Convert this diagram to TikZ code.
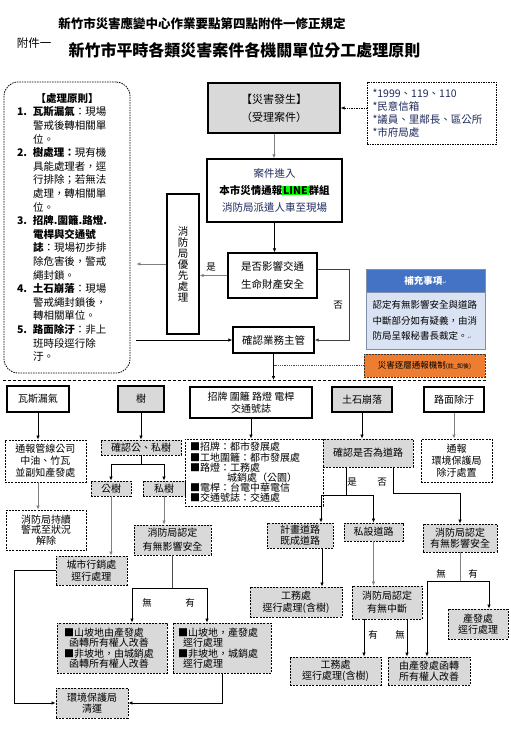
\documentclass[tikz,border=0pt]{standalone}
\usepackage{fontspec}
\setmainfont{Noto Sans CJK TC}
\newfontfamily\markfont{DejaVu Sans}
\usepackage{tikz}
\usetikzlibrary{positioning,arrows.meta}
\usepackage{xcolor}

\definecolor{boxgray}{HTML}{D9D9D9}
\definecolor{linegray}{HTML}{808080}
\definecolor{inkblue}{HTML}{1F2A5C}
\definecolor{noteblue}{HTML}{4472C4}
\definecolor{notepale}{HTML}{DAE3F3}
\definecolor{noteedge}{HTML}{8090A8}
\definecolor{alertorange}{HTML}{ED7D31}
\definecolor{linegreen}{HTML}{00FF00}

\newcommand{\setfs}[2]{\fontsize{#1}{#2}\selectfont}

\begin{document}
\begin{tikzpicture}[
    x=1pt, y=-1pt,
    solidbox/.style={
        draw,
        line width=1.3pt,
        inner sep=0pt,
        align=center,
        font=\setfs{10}{12}
    },
    graysolid/.style={solidbox, fill=boxgray},
    dashbox/.style={
        draw,
        line width=0.9pt,
        dash pattern=on 2pt off 1.2pt,
        inner sep=0pt,
        align=center,
        font=\setfs{10}{11.5}
    },
    graydash/.style={dashbox, fill=boxgray},
    line/.style={-{Latex[length=4pt,width=3.5pt]}, line width=0.7pt},
    gline/.style={line, draw=linegray},
    link/.style={line width=0.7pt},
    branchlabel/.style={font=\setfs{9.5}{11}, inner sep=0pt}
]

\useasboundingbox (0,0) rectangle (511,740);

\node[font=\setfs{12.5}{14}\bfseries] (subtitle) at (202,24) {新竹市災害應變中心作業要點第四點附件一修正規定};
\node[font=\setfs{11.5}{13}] (annex) at (34,43) {附件一};
\node[font=\setfs{16}{18}\bfseries] (title) at (244.5,50) {新竹市平時各類災害案件各機關單位分工處理原則};

\node[draw, dash pattern=on 1.5pt off 1pt, line width=0.8pt, rounded corners=14pt,
      minimum width=126pt, minimum height=291pt, text width=100pt, align=left,
      inner sep=0pt, font=\setfs{10.5}{13.6}] (principles) at (67,227.5) {%
\makebox[100pt]{\bfseries 【處理原則】}\\
\makebox[16pt][l]{\bfseries 1.}{\bfseries 瓦斯漏氣}：現場\\
\hspace*{16pt}警戒後轉相關單\\
\hspace*{16pt}位。\\
\makebox[16pt][l]{\bfseries 2.}{\bfseries 樹處理：}現有機\\
\hspace*{16pt}具能處理者，逕\\
\hspace*{16pt}行排除；若無法\\
\hspace*{16pt}處理，轉相關單\\
\hspace*{16pt}位。\\
\makebox[16pt][l]{\bfseries 3.}{\bfseries 招牌.圍籬.路燈.}\\
\hspace*{16pt}{\bfseries 電桿與交通號}\\
\hspace*{16pt}{\bfseries 誌}：現場初步排\\
\hspace*{16pt}除危害後，警戒\\
\hspace*{16pt}繩封鎖。\\
\makebox[16pt][l]{\bfseries 4.}{\bfseries 土石崩落}：現場\\
\hspace*{16pt}警戒繩封鎖後，\\
\hspace*{16pt}轉相關單位。\\
\makebox[16pt][l]{\bfseries 5.}{\bfseries 路面除汙}：非上\\
\hspace*{16pt}班時段逕行除\\
\hspace*{16pt}汙。};

\node[graysolid, minimum width=132pt, minimum height=50pt, font=\setfs{11}{18}] (case) at (274,108) {【災害發生】\\（受理案件）};
\node[solidbox, minimum width=135pt, minimum height=63pt, font=\setfs{10.5}{17}] (linegroup) at (274.5,190.5) {\textcolor{inkblue}{案件進入}\\{\bfseries 本市災情通報{\fboxsep=0.8pt\colorbox{linegreen}{LINE}}群組}\\\textcolor{inkblue}{消防局派遣人車至現場}};
\node[dashbox, dash pattern=on 1.5pt off 1pt, minimum width=129pt, minimum height=62pt, text width=118pt, align=left, font=\setfs{10.5}{13}, text=inkblue] (source) at (431.5,113) {{*}1999、119、110\\{*}民意信箱\\{*}議員、里鄰長、區公所\\{*}市府局處};
\node[solidbox, minimum width=32pt, minimum height=140pt, font=\setfs{10.5}{11}] (firstaid) at (183,264) {消\\防\\局\\優\\先\\處\\理};
\node[solidbox, minimum width=89pt, minimum height=45pt, font=\setfs{10.5}{18}] (affect) at (272.5,275.5) {是否影響交通\\生命財產安全};
\node[solidbox, minimum width=81pt, minimum height=26pt, font=\setfs{10.5}{12}] (manager) at (273.5,340) {確認業務主管};

\node[draw=noteedge, fill=noteblue, minimum width=119pt, minimum height=23pt, inner sep=0pt,
      font=\setfs{9.5}{11}\bfseries, text=white] (notehead) at (425.5,280.5) {補充事項{\markfont\tiny\textcolor{white!70!noteblue}{↵}}};
\node[draw=noteedge, fill=notepale, minimum width=119pt, minimum height=57pt, inner sep=0pt,
      text width=106pt, align=left, font=\setfs{9.5}{15.5}] (notebody) at (425.5,320.5) {認定有無影響安全與道路\\中斷部分如有疑義，由消\\防局呈報秘書長裁定。{\markfont\tiny\textcolor{gray}{↵}}};
\node[draw=black!80, dash pattern=on 2pt off 1pt, line width=0.9pt, fill=alertorange,
      minimum width=121pt, minimum height=23pt, inner sep=0pt, font=\setfs{8.5}{10}] (escalate) at (424.5,365.5) {災害逐層通報機制{\setfs{6}{7}(註\_如後)}};

\coordinate (sepwest) at (3,380);
\coordinate (sepeast) at (486,380);
\draw[line width=0.8pt, dash pattern=on 3pt off 2pt] (sepwest) -- (sepeast);

\node[branchlabel] (yesaid) at (211,267) {是};
\node[branchlabel] (noaid) at (338,305) {否};

\draw[gline] (case.south) -- (case.south |- linegroup.north);
\draw[line] (linegroup.south) -- (linegroup.south |- affect.north);
\draw[gline] (affect.west) -- (affect.west -| firstaid.east);
\draw[line, draw=black!75] ([yshift=6pt]affect.east) -- ++(32,0) |- (manager.east);
\draw[line, densely dotted] (source.west |- case.east) -- (case.east);
\draw[gline, shorten >=6pt] (firstaid.west) -- (firstaid.west -| principles.east);
\draw[line, shorten <=6pt] (principles.east |- manager.west) -- (manager.west);
\draw[line] (manager.south) -- (manager.south |- sepwest);
\draw[densely dotted, line width=0.8pt, draw=black!70] (escalate.west) -- (escalate.west -| manager.south);

\node[solidbox, minimum width=62pt, minimum height=26pt] (gas) at (38,399) {瓦斯漏氣};
\node[graysolid, minimum width=46pt, minimum height=26pt] (tree) at (141,399) {樹};
\node[solidbox, minimum width=122pt, minimum height=31pt, font=\setfs{10}{11.5}] (sign) at (251,402.5) {招牌\ 圍籬\ 路燈\ 電桿\\交通號誌};
\node[graysolid, minimum width=60pt, minimum height=25pt] (slide) at (362,399.5) {土石崩落};
\node[solidbox, minimum width=60pt, minimum height=25pt] (road) at (454,399.5) {路面除汙};

\node[dashbox, minimum width=81pt, minimum height=42pt, font=\setfs{10}{12}] (gasnotify) at (45.5,461) {通報管線公司\\中油、竹瓦\\並副知產發處};
\node[dashbox, minimum width=80pt, minimum height=40pt, font=\setfs{10}{10.5}] (gaswatch) at (46,530) {消防局持續\\警戒至狀況\\解除};
\node[graydash, minimum width=80pt, minimum height=15pt] (treecheck) at (141,447.5) {確認公、私樹};
\node[graydash, minimum width=40pt, minimum height=15pt] (pubtree) at (111,488.5) {公樹};
\node[graydash, minimum width=42pt, minimum height=15pt] (privtree) at (164,488.5) {私樹};
\node[graydash, minimum width=77pt, minimum height=30pt, font=\setfs{10}{14}] (firetree) at (172.5,540) {消防局認定\\有無影響安全};
\node[graydash, minimum width=71pt, minimum height=29pt] (citymkt) at (91.5,570.5) {城市行銷處\\逕行處理};
\node[graydash, minimum width=72pt, minimum height=30pt] (epaclean) at (92,703) {環境保護局\\清運};
\node[graydash, minimum width=110pt, minimum height=50pt, text width=96pt, align=left, font=\setfs{10}{10.4}] (slopeno) at (112,648) {■山坡地由產發處\\\hspace*{5pt}函轉所有權人改善\\■非坡地，由城銷處\\\hspace*{5pt}函轉所有權人改善};
\node[graydash, minimum width=98pt, minimum height=50pt, text width=88pt, align=left, font=\setfs{10}{10.4}] (slopeyes) at (222,648) {■山坡地，產發處\\\hspace*{5pt}逕行處理\\■非坡地，城銷處\\\hspace*{5pt}逕行處理};

\node[dashbox, minimum width=138pt, minimum height=67pt, text width=128pt, align=left, font=\setfs{10}{10.2}] (signlist) at (254,472.5) {■招牌：都市發展處\\■工地圍籬：都市發展處\\■路燈：工務處\\\hspace*{37pt}城銷處（公園）\\■電桿：台電中華電信\\■交通號誌：交通處};
\node[graydash, minimum width=90pt, minimum height=28pt] (roadcheck) at (368,453) {確認是否為道路};
\node[dashbox, minimum width=71pt, minimum height=43pt, font=\setfs{10}{12}] (roadnotify) at (456.5,460.5) {通報\\環境保護局\\除汙處置};
\node[graydash, minimum width=66pt, minimum height=25pt, font=\setfs{10}{11}] (planroad) at (300,535.5) {計畫道路\\既成道路};
\node[graydash, minimum width=59pt, minimum height=18pt] (privroad) at (373.5,532) {私設道路};
\node[graydash, minimum width=74pt, minimum height=28pt, font=\setfs{10}{11}] (fireroad) at (460,538) {消防局認定\\有無影響安全};
\node[graydash, minimum width=92pt, minimum height=30pt, font=\setfs{10}{12}] (pwdtree) at (296,602) {工務處\\逕行處理(含樹)};
\node[graydash, minimum width=70pt, minimum height=33pt, font=\setfs{10}{13}] (firecut) at (387,602.5) {消防局認定\\有無中斷};
\node[graydash, minimum width=91pt, minimum height=28pt, font=\setfs{10}{11}] (pwdcut) at (335.5,671) {工務處\\逕行處理(含樹)};
\node[graydash, minimum width=82pt, minimum height=28pt, font=\setfs{10}{11}] (devowner) at (429,671) {由產發處函轉\\所有權人改善};
\node[graydash, minimum width=60pt, minimum height=30pt, font=\setfs{10}{11}] (devproc) at (478,624) {產發處\\逕行處理};

\node[branchlabel] (treeno) at (147,603) {無};
\node[branchlabel] (treeyes) at (190,603) {有};
\node[branchlabel] (roadyeslabel) at (352,482) {是};
\node[branchlabel] (roadnolabel) at (382,482) {否};
\node[branchlabel] (cutyes) at (373,635) {有};
\node[branchlabel] (cutno) at (400,635) {無};
\node[branchlabel] (safeno) at (441,574) {無};
\node[branchlabel] (safeyes) at (473,574) {有};

\draw[line] (gas.south) -- (gas.south |- gasnotify.north);
\draw[gline] (gas.south |- gasnotify.south) -- (gas.south |- gaswatch.north);
\draw[line] (tree.south) -- (tree.south |- treecheck.north);
\draw[line] (treecheck.south) -- ++(0,9) -| (pubtree.north);
\draw[line] (treecheck.south) -- ++(0,9) -| (privtree.north);
\draw[gline] (pubtree.south) -- (pubtree.south |- citymkt.north);
\draw[gline] (privtree.south) -- (privtree.south |- firetree.north);
\draw[line] (citymkt.west) -- ++(-41,0) |- (epaclean.west);
\draw[link, draw=black!70] (firetree.south) -- ++(0,33) coordinate (treeyn);
\draw[line] (treeyn) -| ([xshift=20pt]slopeno.north);
\draw[line] (treeyn) -| ([xshift=-15pt]slopeyes.north);
\draw[line] (slopeyes.south) |- (epaclean.east);

\draw[line] (sign.south) -- (sign.south |- signlist.north);
\draw[line] (slide.south) -- (slide.south |- roadcheck.north);
\draw[link] ([xshift=-22pt]roadcheck.south) -- ++(0,28) coordinate (roadyes);
\draw[line] (roadyes) -| ([xshift=21pt]planroad.north);
\draw[line] (roadyes) -| (privroad.north);
\draw[line] ([xshift=25pt]roadcheck.south) -- ++(0,26) -| (fireroad.north);
\draw[gline] (road.south) -- (road.south |- roadnotify.north);
\draw[line] ([xshift=22pt]planroad.south) -- ([xshift=22pt]planroad.south |- pwdtree.north);
\draw[gline] (privroad.south) -- (privroad.south |- firecut.north);
\draw[line] ([xshift=-23pt]firecut.south) -- ([xshift=-23pt]firecut.south |- pwdcut.north);
\draw[line] ([xshift=20pt]firecut.south) -- ([xshift=20pt]firecut.south |- devowner.north);
\draw[link, draw=linegray] (fireroad.south) -- ++(0,29) coordinate (roadyn);
\draw[line] (roadyn) -| ([xshift=-2pt]devowner.north);
\draw[line] (roadyn) -| ([xshift=11pt]devproc.north);

\end{tikzpicture}
\end{document}
